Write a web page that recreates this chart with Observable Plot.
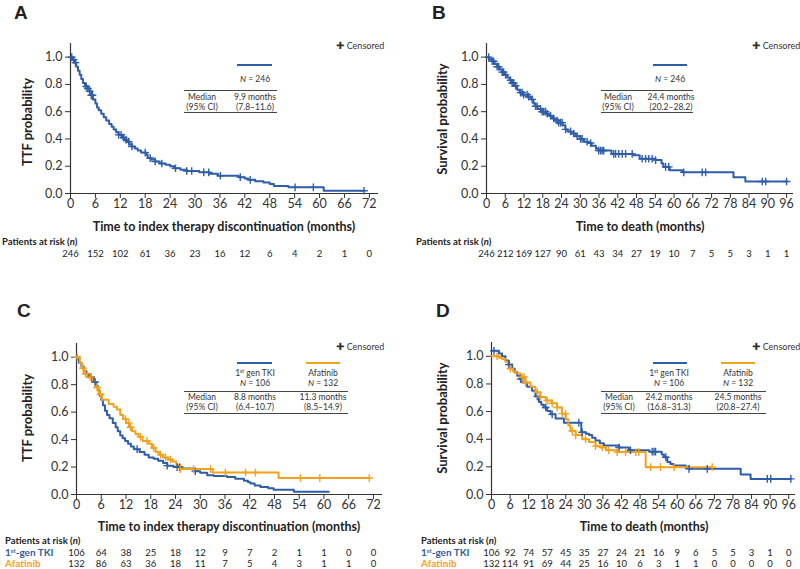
<!DOCTYPE html>
<html><head><meta charset="utf-8">
<script src="https://cdn.jsdelivr.net/npm/d3@7"></script>
<script src="https://cdn.jsdelivr.net/npm/@observablehq/plot@0.6"></script>
<style>
body{margin:0;background:#fff;font-family:Lato,"Liberation Sans",sans-serif;color:#222}
#root{position:relative;width:800px;height:569px;overflow:hidden;background:#fff}
.abs{position:absolute;white-space:nowrap;line-height:1}
.letter{font-family:"Liberation Sans",Arial,sans-serif;font-weight:bold;font-size:19px}
.xlab{font-weight:bold;font-size:12.5px;color:#222}
.ylab{font-weight:bold;font-size:13px;color:#222}
.riskh{font-weight:bold;font-size:9.5px;color:#222}
.leg{font-size:8.5px;color:#333}
.cens{font-size:9px;color:#333}
.rowlab{font-weight:bold;font-size:10px}
sup{font-size:0.6em;vertical-align:0.5em;line-height:0}
.plotwrap{position:absolute}
</style>
</head><body><div id="root"></div>
<script>
// ---------------- DATA ----------------
const blue = "#2e5ea9";
const orange = "#f2a11c";

const xTicks72 = [0,6,12,18,24,30,36,42,48,54,60,66,72];
const xTicks96 = [0,6,12,18,24,30,36,42,48,54,60,66,72,78,84,90,96];
const yTicks = [0,0.2,0.4,0.6,0.8,1.0];

// Panel A: TTF, all patients
const timeA = [0,0.4,0.9,1.4,1.8,2.2,2.6,3.0,3.5,4.0,4.6,5.0,5.4,6.0,6.4,6.8,7.4,8.0,8.6,9.3,9.9,10.4,11.0,11.6,12.4,13.0,13.6,14.2,14.8,15.5,16.2,17.0,18.3,18.6,19.4,20.4,21.5,22.9,24.0,25.0,26.5,28.0,31.0,33.5,35.5,40.5,42.0,42.8,44.5,46.5,48.0,49.0,52.5,61.0,70.7];
const survA = [1.0,0.98,0.96,0.93,0.90,0.87,0.84,0.81,0.785,0.77,0.75,0.72,0.69,0.66,0.63,0.61,0.585,0.56,0.535,0.51,0.49,0.47,0.45,0.43,0.41,0.395,0.38,0.36,0.345,0.33,0.315,0.30,0.285,0.26,0.25,0.235,0.22,0.21,0.20,0.185,0.175,0.165,0.155,0.145,0.13,0.12,0.11,0.10,0.09,0.08,0.07,0.055,0.045,0.02,0.02];
const censorA = [0.3,0.8,1.2,3.8,4.2,4.6,5.0,5.3,11.6,12.2,12.8,13.4,14.0,14.8,18.0,19.2,20.4,22.0,25.3,28.0,29.2,32.1,33.3,36.1,40.9,43.3,54.1,58.5,70.7];
const riskA = [246,152,102,61,36,23,16,12,6,4,2,1,0];

// Panel B: OS, all patients
const timeB = [0,1.0,1.8,2.6,3.4,4.2,5.0,5.8,6.6,7.4,8.2,9.0,9.8,10.6,11.6,13.4,14.2,15.0,15.6,16.4,17.6,19.0,20.0,21.0,22.0,23.0,24.4,25.2,26.0,27.0,28.5,30.0,31.2,32.4,33.6,35.0,35.8,40.0,47.0,49.0,54.0,56.0,56.6,58.6,62.6,79.0,82.8,96.0];
const survB = [1.0,0.985,0.97,0.95,0.93,0.91,0.89,0.87,0.85,0.83,0.81,0.79,0.76,0.74,0.725,0.71,0.69,0.66,0.64,0.62,0.60,0.585,0.57,0.55,0.535,0.52,0.50,0.47,0.455,0.44,0.42,0.40,0.38,0.37,0.35,0.33,0.315,0.29,0.28,0.255,0.245,0.22,0.195,0.17,0.155,0.12,0.088,0.088];
const censorB = [0.7,1.8,2.3,3.4,3.9,5.0,5.5,6.1,7.7,8.2,8.7,9.3,10.9,11.4,11.9,13.0,13.5,14.6,15.7,16.2,17.3,17.8,18.3,18.9,19.4,20.5,21.5,22.6,23.1,23.7,24.2,25.3,26.9,27.9,29.0,30.1,30.6,32.2,33.3,35.9,36.5,37.0,37.5,40.7,41.3,42.3,43.4,44.5,46.6,49.8,50.9,51.9,53.0,54.1,57.3,58.3,63.1,69.0,70.1,88.2,89.3,96.0];
const riskB = [246,212,169,127,90,61,43,34,27,19,10,7,5,5,3,1,1];

// Panel C: TTF by treatment
const timeC1 = [0,0.6,1.2,1.8,2.4,3.0,4.2,4.8,5.2,5.6,6.0,6.4,6.9,7.4,8.0,8.8,9.5,10.0,10.6,11.2,11.8,12.5,13.2,13.9,15.3,16.5,17.5,18.7,19.8,21.0,22.0,23.5,25.5,28.4,30.0,31.7,33.3,36.5,38.5,40.6,41.6,42.2,43.2,44.6,46.5,47.8,52.7,61.2];
const survC1 = [1.0,0.96,0.93,0.90,0.88,0.855,0.82,0.79,0.76,0.72,0.69,0.65,0.61,0.58,0.555,0.52,0.49,0.46,0.43,0.41,0.39,0.37,0.35,0.33,0.31,0.29,0.27,0.26,0.245,0.23,0.21,0.20,0.19,0.17,0.158,0.14,0.135,0.127,0.115,0.10,0.09,0.08,0.066,0.055,0.045,0.035,0.02,0.02];
const censorC1 = [3.5,4.5,14.7,22.0,24.4,25.0,28.8];
const timeC2 = [0,0.8,1.3,1.8,2.6,3.8,4.6,5.4,6.2,7.8,9.0,9.8,10.6,11.3,12.0,12.8,13.5,14.3,15.0,16.0,17.5,18.3,19.2,20.0,21.0,22.2,23.2,24.2,25.2,33.0,49.0,71.0];
const survC2 = [1.0,0.96,0.92,0.88,0.855,0.82,0.78,0.73,0.69,0.66,0.64,0.62,0.58,0.55,0.52,0.49,0.46,0.44,0.42,0.39,0.37,0.34,0.31,0.29,0.27,0.255,0.24,0.215,0.185,0.16,0.12,0.12];
const censorC2 = [0.2,1.6,2.2,3.4,5.0,5.8,11.9,12.7,13.1,15.5,17.1,18.7,20.4,21.6,22.8,25.2,28.4,32.5,36.1,41.0,43.4,54.3,59.0,71.0];
const riskC1 = [106,64,38,25,18,12,9,7,2,1,1,0,0];
const riskC2 = [132,86,63,36,18,11,7,5,4,3,1,1,0];

// Panel D: OS by treatment
const timeD1 = [0,2.4,3.4,4.5,5.6,6.7,7.5,8.3,9.1,9.9,11.5,13.1,14.2,15.3,16.1,16.9,18.0,19.1,20.7,23.4,29.0,30.5,31.5,32.5,33.6,35.0,36.3,41.2,44.4,51.0,55.0,55.7,56.8,57.8,58.9,62.7,63.8,80.5,83.7,96.7];
const survD1 = [1.04,1.02,1.0,0.97,0.94,0.91,0.885,0.86,0.835,0.81,0.78,0.75,0.71,0.67,0.65,0.63,0.605,0.58,0.55,0.52,0.45,0.44,0.43,0.41,0.39,0.37,0.355,0.34,0.32,0.31,0.29,0.27,0.235,0.22,0.21,0.20,0.186,0.145,0.113,0.113];
const censorD1 = [0.8,5.6,9.4,14.8,17.5,19.6,28.2,29.3,41.2,44.9,51.9,52.5,53.0,56.3,63.8,69.7,89.1,90.2,96.7];
const timeD2 = [0,2.4,3.4,4.5,5.3,6.1,7.0,7.8,9.4,11.0,12.6,14.2,15.8,17.5,19.6,21.2,22.8,24.0,24.8,25.5,27.2,29.3,31.5,33.6,35.2,37.0,40.6,49.8,71.3];
const survD2 = [1.0,0.99,0.98,0.96,0.935,0.91,0.89,0.875,0.85,0.81,0.78,0.74,0.705,0.68,0.66,0.63,0.585,0.545,0.50,0.46,0.43,0.40,0.38,0.35,0.34,0.32,0.307,0.198,0.198];
const censorD2 = [1.8,6.1,9.9,10.5,11.0,14.8,15.8,18.0,19.6,21.2,22.8,23.9,26.1,27.2,30.4,33.6,35.8,37.9,40.6,43.3,46.6,47.6,51.4,54.6,59.0,71.3];
const riskD1 = [106,92,74,57,45,35,27,24,21,16,9,6,5,5,3,1,0];
const riskD2 = [132,114,91,69,44,25,16,10,6,3,1,1,0,0,0,0,0];

// ---------------- HELPERS ----------------
const root = document.getElementById("root");
function txt(html, x, y, cls, align = "c", extra = "", color) {
  const d = document.createElement("div");
  d.className = "abs " + cls;
  d.innerHTML = html;
  d.style.left = x + "px"; d.style.top = y + "px";
  d.style.transform = (align === "c" ? "translate(-50%,-50%)" : "translate(0,-50%)") + extra;
  if (color) d.style.color = color;
  root.appendChild(d);
}
function hline(x1, x2, y, color, w) {
  const d = document.createElement("div");
  d.className = "abs";
  d.style.left = x1 + "px"; d.style.top = (y - w / 2) + "px";
  d.style.width = (x2 - x1) + "px"; d.style.height = w + "px";
  d.style.background = color;
  root.appendChild(d);
}
function stepAt(times, surv, t) {
  const i = d3.bisectRight(times, t) - 1;
  return surv[Math.max(0, i)];
}
function panel({left, top, width, height, mL, mT, mB, mR, xMax, ticks, series, riskDy}) {
  const marks = [
    Plot.ruleY([0], {stroke: "#333", strokeWidth: 1.2}),
    Plot.ruleX([0], {stroke: "#333", strokeWidth: 1.2})
  ];
  series.forEach((s) => {
    const pts = s.times.map((t, i) => ({t, s: s.surv[i]}));
    marks.push(Plot.line(pts, {x: "t", y: "s", curve: "step-after", stroke: s.color, strokeWidth: 2}));
  });
  series.forEach((s) => {
    const cz = s.censor.map(t => ({t, s: stepAt(s.times, s.surv, t)}));
    marks.push(Plot.dot(cz, {x: "t", y: "s", symbol: "plus", r: 2.6, stroke: s.color, strokeWidth: 1.4}));
  });
  series.forEach((s, k) => {
    const rr = ticks.map((t, i) => ({t, n: s.risk[i]}));
    marks.push(Plot.text(rr, {x: "t", frameAnchor: "bottom", dy: riskDy[k], text: "n", fontSize: 9.5, fill: "#222", lineAnchor: "middle"}));
  });
  const chart = Plot.plot({
    width, height, marginLeft: mL, marginTop: mT, marginBottom: mB, marginRight: mR,
    style: {fontFamily: "Lato, 'Liberation Sans', sans-serif", fontSize: "12.5px", color: "#333", background: "transparent", overflow: "visible"},
    x: {domain: [0, xMax], ticks: ticks, tickSize: 5, tickPadding: 1, label: null},
    y: {domain: [0, 1.1], ticks: yTicks, tickFormat: d3.format(".1f"), tickSize: 5, tickPadding: 3, label: null},
    marks
  });
  const w = document.createElement("div");
  w.className = "plotwrap";
  w.style.left = left + "px"; w.style.top = top + "px";
  w.appendChild(chart);
  root.appendChild(w);
}

// ---------------- PANELS ----------------
panel({left: 0, top: 0, width: 400, height: 265, mL: 70, mT: 43, mB: 72, mR: 22, xMax: 74.2, ticks: xTicks72,
  series: [{times: timeA, surv: survA, censor: censorA, color: blue, risk: riskA}], riskDy: [60]});
panel({left: 400, top: 0, width: 400, height: 265, mL: 86, mT: 43, mB: 72, mR: 7, xMax: 98.2, ticks: xTicks96,
  series: [{times: timeB, surv: survB, censor: censorB, color: blue, risk: riskB}], riskDy: [60]});
panel({left: 0, top: 290, width: 400, height: 279, mL: 76, mT: 53, mB: 75, mR: 18, xMax: 74.2, ticks: xTicks72,
  series: [{times: timeC1, surv: survC1, censor: censorC1, color: blue, risk: riskC1},
           {times: timeC2, surv: survC2, censor: censorC2, color: orange, risk: riskC2}], riskDy: [58, 69]});
panel({left: 400, top: 290, width: 400, height: 279, mL: 91, mT: 52, mB: 75, mR: 5, xMax: 98.2, ticks: xTicks96,
  series: [{times: timeD1, surv: survD1, censor: censorD1, color: blue, risk: riskD1},
           {times: timeD2, surv: survD2, censor: censorD2, color: orange, risk: riskD2}], riskDy: [58, 69]});

// ---------------- TEXT / LEGENDS ----------------
const cross = '<span style="font-family:\'DejaVu Sans\';font-size:10px;font-weight:bold">✚</span> Censored';
// A
txt("A", 14, 12, "letter", "l");
txt(cross, 336, 46, "cens", "l");
hline(237, 272, 65, blue, 2.5);
txt("<i>N</i> = 246", 255, 79, "leg");
hline(184, 277, 90, "#444", 1);
txt("Median", 202, 97, "leg"); txt("(95% CI)", 202, 107, "leg");
txt("9.9 months", 255, 97, "leg"); txt("(7.8–11.6)", 255, 107, "leg");
hline(184, 277, 112.5, "#444", 1);
txt("TTF probability", 27, 122, "ylab", "c", " rotate(-90deg)");
txt("Time to index therapy discontinuation (months)", 224, 227, "xlab");
txt("Patients at risk (<i>n</i>)", 2, 242, "riskh", "l");
// B
txt("B", 432, 12, "letter", "l");
txt(cross, 752, 46, "cens", "l");
hline(653, 687, 65, blue, 2.5);
txt("<i>N</i> = 246", 670, 79, "leg");
hline(601, 693, 90, "#444", 1);
txt("Median", 618, 97, "leg"); txt("(95% CI)", 618, 107, "leg");
txt("24.4 months", 671, 97, "leg"); txt("(20.2–28.2)", 671, 107, "leg");
hline(601, 693, 112.5, "#444", 1);
txt("Survival probability", 442, 119, "ylab", "c", " rotate(-90deg)");
txt("Time to death (months)", 640, 227, "xlab");
txt("Patients at risk (<i>n</i>)", 416, 242, "riskh", "l");
// C
txt("C", 17, 310, "letter", "l");
txt(cross, 336, 347, "cens", "l");
hline(237, 272, 363, blue, 2.5);
hline(306, 340, 363, orange, 2.5);
txt("1<sup>st</sup> gen TKI", 255, 373, "leg"); txt("<i>N</i> = 106", 255, 383, "leg");
txt("Afatinib", 323, 373, "leg"); txt("<i>N</i> = 132", 323, 383, "leg");
hline(184, 348, 391, "#444", 1);
txt("Median", 202, 397, "leg"); txt("(95% CI)", 202, 407, "leg");
txt("8.8 months", 255, 397, "leg"); txt("(6.4–10.7)", 255, 407, "leg");
txt("11.3 months", 323, 397, "leg"); txt("(8.5–14.9)", 323, 407, "leg");
hline(184, 348, 413, "#444", 1);
txt("TTF probability", 27, 418, "ylab", "c", " rotate(-90deg)");
txt("Time to index therapy discontinuation (months)", 229, 527, "xlab");
txt("Patients at risk (<i>n</i>)", 5, 541, "riskh", "l");
txt("1<sup>st</sup>-gen TKI", 5, 552, "rowlab", "l", "", blue);
txt("Afatinib", 5, 563, "rowlab", "l", "", orange);
// D
txt("D", 436, 310, "letter", "l");
txt(cross, 752, 347, "cens", "l");
hline(653, 687, 363, blue, 2.5);
hline(721, 755, 363, orange, 2.5);
txt("1<sup>st</sup> gen TKI", 669, 373, "leg"); txt("<i>N</i> = 106", 669, 383, "leg");
txt("Afatinib", 738, 373, "leg"); txt("<i>N</i> = 132", 738, 383, "leg");
hline(601, 766, 391, "#444", 1);
txt("Median", 619, 397, "leg"); txt("(95% CI)", 619, 407, "leg");
txt("24.2 months", 669, 397, "leg"); txt("(16.8–31.3)", 669, 407, "leg");
txt("24.5 months", 738, 397, "leg"); txt("(20.8–27.4)", 738, 407, "leg");
hline(601, 766, 413, "#444", 1);
txt("Survival probability", 442, 418, "ylab", "c", " rotate(-90deg)");
txt("Time to death (months)", 644, 527, "xlab");
txt("Patients at risk (<i>n</i>)", 421, 541, "riskh", "l");
txt("1<sup>st</sup>-gen TKI", 421, 552, "rowlab", "l", "", blue);
txt("Afatinib", 421, 563, "rowlab", "l", "", orange);
</script>
</body></html>
